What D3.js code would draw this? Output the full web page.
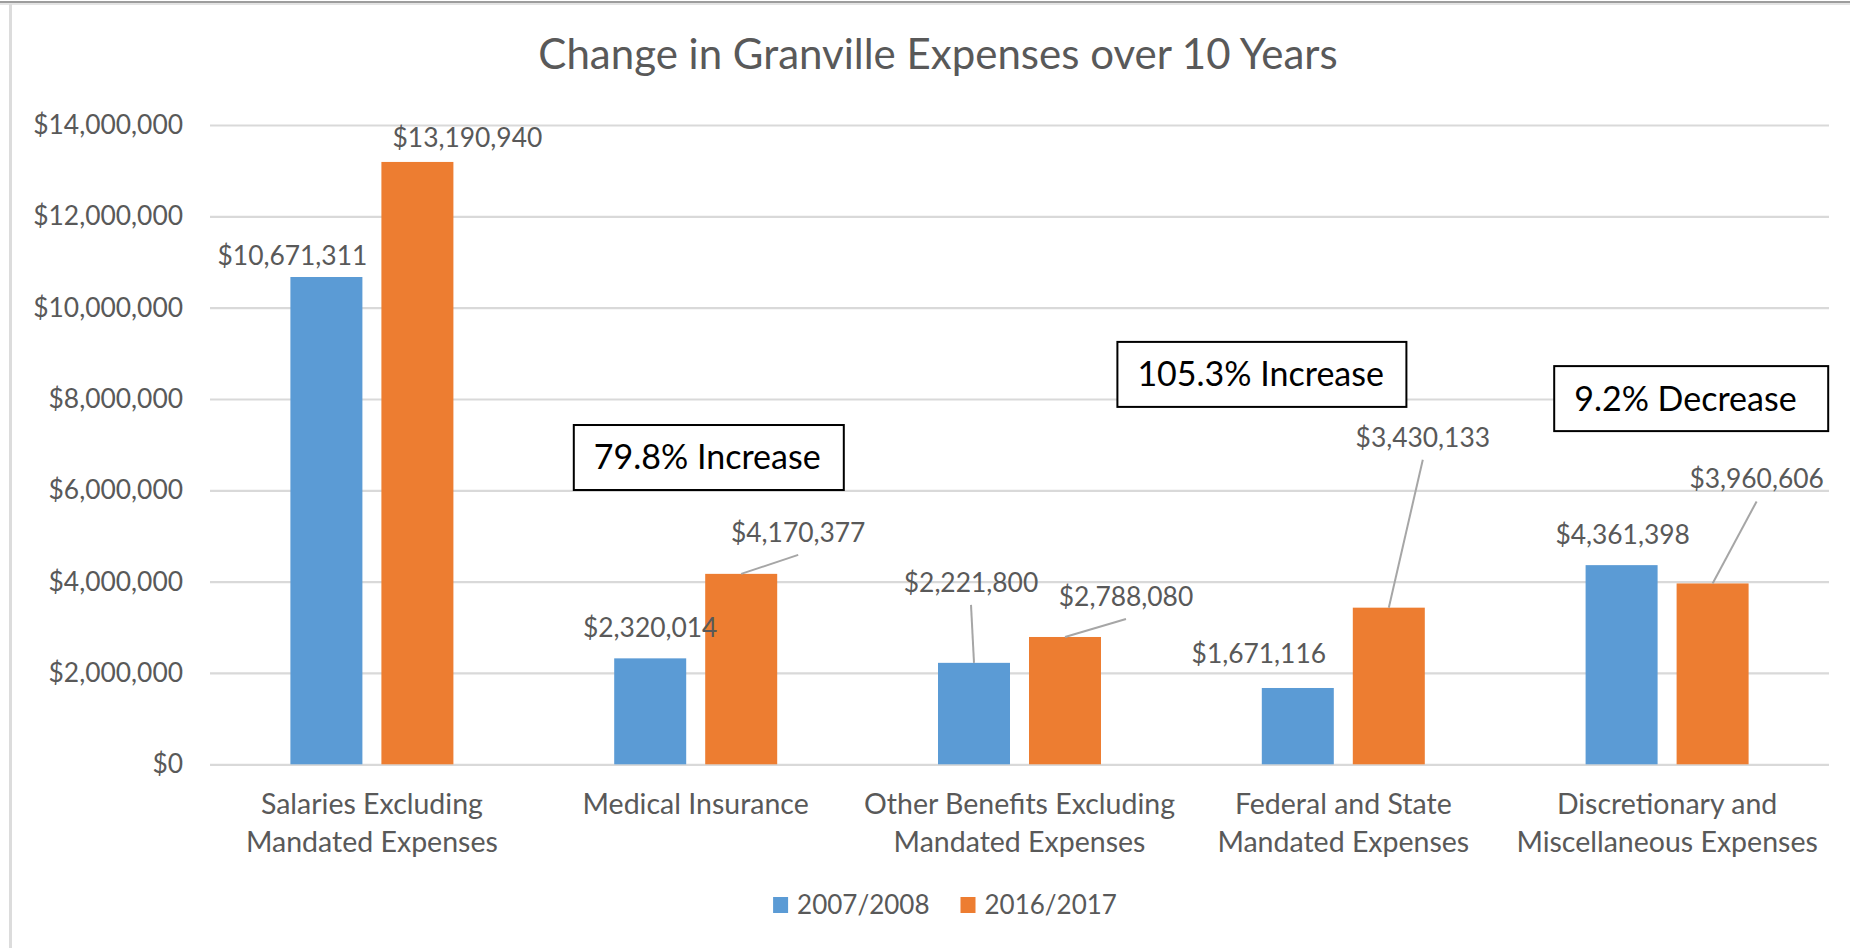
<!DOCTYPE html>
<html>
<head>
<meta charset="utf-8">
<title>Change in Granville Expenses over 10 Years</title>
<script src="https://cdn.jsdelivr.net/npm/d3@7"></script>
<style>
  html, body { margin: 0; padding: 0; background: #fff; }
  svg { display: block; font-family: Lato, "Open Sans", sans-serif; }
</style>
</head>
<body>
<svg id="chart" width="1850" height="948"></svg>
<script>
// ---- data ----
const categories = [
  "Salaries Excluding\nMandated Expenses",
  "Medical Insurance",
  "Other Benefits Excluding\nMandated Expenses",
  "Federal and State\nMandated Expenses",
  "Discretionary and\nMiscellaneous Expenses"
];
const seriesNames = ["2007/2008", "2016/2017"];
const values2007 = [10671311, 2320014, 2221800, 1671116, 4361398];
const values2016 = [13190940, 4170377, 2788080, 3430133, 3960606];
const yTickValues = [0, 2000000, 4000000, 6000000, 8000000, 10000000, 12000000, 14000000];
// categories that carry a percent-change callout box
const calloutCategories = [1, 3, 4];

// ---- layout & style ----
const W = 1850, H = 948;
const plot = { left: 210, right: 1829, top: 125, bottom: 764.3 };
const colors = { "2007/2008": "#5B9BD5", "2016/2017": "#ED7D31" };
const textGray = "#595959";
const gridGray = "#D9D9D9";

// value-label placement per series/category: offset of label centre from bar centre,
// baseline offset from bar top, and whether a leader line is drawn
const labelPlacement = {
  "2007/2008": [
    { dx: -34, dy: -12, leader: false },
    { dx: 0,   dy: -21, leader: false },
    { dx: -3,  dy: -71, leader: true },
    { dx: -39, dy: -25, leader: false },
    { dx: 1,   dy: -21, leader: false }
  ],
  "2016/2017": [
    { dx: 50, dy: -15,  leader: false },
    { dx: 57, dy: -32,  leader: true },
    { dx: 61, dy: -31,  leader: true },
    { dx: 34, dy: -161, leader: true },
    { dx: 44, dy: -95,  leader: true }
  ]
};
// callout box placement: x offset from band start, top edge on the value axis, box width
const calloutPlacement = [
  { dx: 40,  topValue: 7430000, w: 270 },
  { dx: -64, topValue: 9250000, w: 289 },
  { dx: 49,  topValue: 8720000, w: 274 }
];

const svg = d3.select("#chart");

// chart frame edges
svg.append("rect").attr("x", 0).attr("y", 1).attr("width", W).attr("height", 2).attr("fill", "#9d9d9d");
svg.append("rect").attr("x", 0).attr("y", 3).attr("width", W).attr("height", 2).attr("fill", "#e4e4e4");
svg.append("rect").attr("x", 9).attr("y", 4).attr("width", 3).attr("height", H - 4).attr("fill", "#dcdcdc");

// scales
const x0 = d3.scaleBand()
  .domain(d3.range(categories.length))
  .range([plot.left, plot.right])
  .paddingInner(0).paddingOuter(0);
const x1 = d3.scaleBand()
  .domain(seriesNames)
  .range([0, x0.bandwidth()])
  .paddingInner(0.2088).paddingOuter(0.8835);
const y = d3.scaleLinear().domain([0, 14000000]).range([plot.bottom, plot.top]);

const seriesValues = { "2007/2008": values2007, "2016/2017": values2016 };

// title
svg.append("text")
  .attr("x", 938).attr("y", 69)
  .attr("text-anchor", "middle")
  .attr("fill", textGray)
  .attr("font-size", 42)
  .text("Change in Granville Expenses over 10 Years");

// value axis with gridlines
const yAxis = d3.axisLeft(y)
  .tickValues(yTickValues)
  .tickFormat(d3.format("$,"))
  .tickSize(-(plot.right - plot.left))
  .tickPadding(27);
const gy = svg.append("g")
  .attr("transform", `translate(${plot.left},0)`)
  .call(yAxis);
gy.select(".domain").remove();
gy.selectAll(".tick line").attr("stroke", gridGray).attr("stroke-width", 2.2);
gy.selectAll(".tick text")
  .attr("fill", textGray)
  .attr("font-size", 26.4)
  .attr("font-family", "Lato, 'Open Sans', sans-serif");

// bars
const barData = [];
categories.forEach((c, i) => {
  seriesNames.forEach(s => {
    barData.push({ i, s, v: seriesValues[s][i] });
  });
});

svg.append("g").selectAll("rect")
  .data(barData)
  .join("rect")
  .attr("x", d => x0(d.i) + x1(d.s))
  .attr("y", d => y(d.v))
  .attr("width", x1.bandwidth())
  .attr("height", d => y(0) - y(d.v))
  .attr("fill", d => colors[d.s]);

// value labels and leader lines
const fmtMoney = d3.format("$,");
const barCenter = d => x0(d.i) + x1(d.s) + x1.bandwidth() / 2;
const labelX = d => barCenter(d) + labelPlacement[d.s][d.i].dx;
const labelY = d => y(d.v) + labelPlacement[d.s][d.i].dy;

svg.append("g").selectAll("line")
  .data(barData.filter(d => labelPlacement[d.s][d.i].leader))
  .join("line")
  .attr("x1", d => labelX(d))
  .attr("y1", d => labelY(d) + 13)
  .attr("x2", d => barCenter(d))
  .attr("y2", d => y(d.v))
  .attr("stroke", "#A6A6A6")
  .attr("stroke-width", 2);

svg.append("g").selectAll("text")
  .data(barData)
  .join("text")
  .attr("x", d => labelX(d))
  .attr("y", d => labelY(d))
  .attr("text-anchor", "middle")
  .attr("fill", textGray)
  .attr("font-size", 26.4)
  .text(d => fmtMoney(d.v));

// category labels
const catG = svg.append("g").selectAll("text")
  .data(categories)
  .join("text")
  .attr("text-anchor", "middle")
  .attr("fill", textGray)
  .attr("font-size", 28.5);
catG.each(function(c, i) {
  const lines = c.split("\n");
  d3.select(this).selectAll("tspan")
    .data(lines)
    .join("tspan")
    .attr("x", x0(i) + x0.bandwidth() / 2)
    .attr("y", (l, k) => y(0) + 40 + 38 * k)
    .attr("dy", "0.35em")
    .text(l => l);
});

// percent-change callouts
const fmtPct = d3.format(".1f");
calloutCategories.forEach((ci, k) => {
  const pct = (values2016[ci] - values2007[ci]) / values2007[ci] * 100;
  const label = `${fmtPct(Math.abs(pct))}% ${pct >= 0 ? "Increase" : "Decrease"}`;
  const p = calloutPlacement[k];
  const bx = x0(ci) + p.dx;
  const by = y(p.topValue);
  const bh = 65;
  const g = svg.append("g");
  g.append("rect")
    .attr("x", bx).attr("y", by)
    .attr("width", p.w).attr("height", bh)
    .attr("fill", "#fff")
    .attr("stroke", "#000")
    .attr("stroke-width", 2);
  g.append("text")
    .attr("x", bx + 20).attr("y", by + bh / 2)
    .attr("dy", "0.35em")
    .attr("fill", "#000")
    .attr("font-size", 34)
    .text(label);
});

// legend
const legend = svg.append("g");
let lx = 0;
const items = [];
seriesNames.forEach(s => {
  const g = legend.append("g").attr("transform", `translate(${lx},0)`);
  g.append("rect").attr("x", 0).attr("y", -8).attr("width", 15).attr("height", 16).attr("fill", colors[s]);
  const t = g.append("text").attr("x", 24).attr("y", 0).attr("dy", "0.35em")
    .attr("fill", textGray).attr("font-size", 26).text(s);
  const w = 24 + t.node().getComputedTextLength();
  items.push(w);
  lx += w + 31;
});
const legendWidth = lx - 31;
legend.attr("transform", `translate(${945 - legendWidth / 2},905)`);
</script>
</body>
</html>
